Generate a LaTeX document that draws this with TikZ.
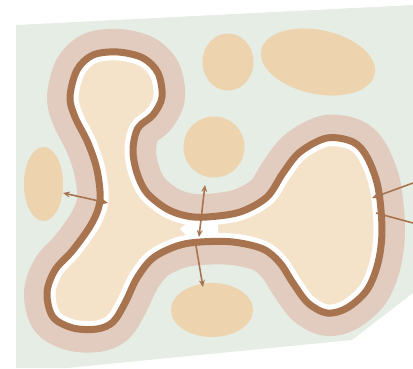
\documentclass[tikz,border=0pt]{standalone}
\usetikzlibrary{arrows.meta}
\definecolor{bgc}{HTML}{E5EDE4}
\definecolor{haloc}{HTML}{E2CBBF}
\definecolor{brownc}{HTML}{A87450}
\definecolor{creamc}{HTML}{F5E3C9}
\definecolor{blobc}{HTML}{EDD3AE}
\def\mainpath{plot[smooth cycle,tension=0.55] coordinates{
(118,52) (143,58) (158,73) (162,97) (153,115) (138,128) (133,150) (137,173) (147,193) (167,209) (187,216) (207,217) (240,212) (267,197) (283,173) (300,152) (327,138) (353,142) (367,157) (378,187) (382,230) (378,263) (367,290) (347,308) (327,313) (308,303) (293,283) (280,263) (263,249) (233,242) (200,242) (177,246) (153,258) (137,278) (125,303) (113,322) (97,329) (73,328) (53,317) (47,293) (55,270) (73,250) (92,223) (100,200) (97,170) (88,143) (75,117) (70,97) (77,70) (93,55)}}
\tikzset{
  blob/.style={fill=blobc},
  arr/.style={draw=brownc, line width=1.6pt},
  tip/.style={-{Stealth[length=7pt,width=6pt]}},
  dtip/.style={{Stealth[length=7pt,width=6pt]}-{Stealth[length=7pt,width=6pt]}}
}
\begin{document}
\begin{tikzpicture}[x=1pt,y=-1pt]
\useasboundingbox (0,0) rectangle (413,368);
\fill[bgc] (16,25) -- (413,5) -- (413,293) -- (352,340) -- (67,368) -- (16,368) -- cycle;
% blobs
\fill[blob] (43.5,184) ellipse [x radius=19.5, y radius=37];
\fill[blob] (228,62) ellipse [x radius=25.5, y radius=28.5];
\fill[blob] (318,62) ellipse [x radius=58, y radius=32, rotate=-12];
\fill[blob] (214,147) circle [radius=30.5];
\fill[blob] (212,310) ellipse [x radius=41, y radius=27];
% halo
\draw[haloc, line width=46pt, line join=round] \mainpath;
\fill[creamc] \mainpath;
\begin{scope}
\clip \mainpath;
\draw[white, line width=17pt, line join=round] \mainpath;
\fill[white] (180,229) -- (190,220) -- (218,220) -- (218,239) -- (190,239) -- cycle;
\end{scope}
\draw[brownc, line width=7pt, line join=round] \mainpath;
% arrows
\coordinate (a1) at (63,193);
\coordinate (a2) at (108,203);
\coordinate (b1) at (205,185);
\coordinate (b2) at (199,237);
\coordinate (c1) at (195,240);
\coordinate (c2) at (203,287);
\coordinate (d1) at (413,183);
\coordinate (d2) at (372,198);
\coordinate (e1) at (413,223);
\coordinate (e2) at (376,213);
\draw[arr, dtip] (a1) -- (a2);
\draw[arr, dtip] (b1) -- (b2);
\draw[arr, tip] (c1) -- (c2);
\draw[arr, tip] (d1) -- (d2);
\draw[arr] (e1) -- (e2);
\end{tikzpicture}
\end{document}
